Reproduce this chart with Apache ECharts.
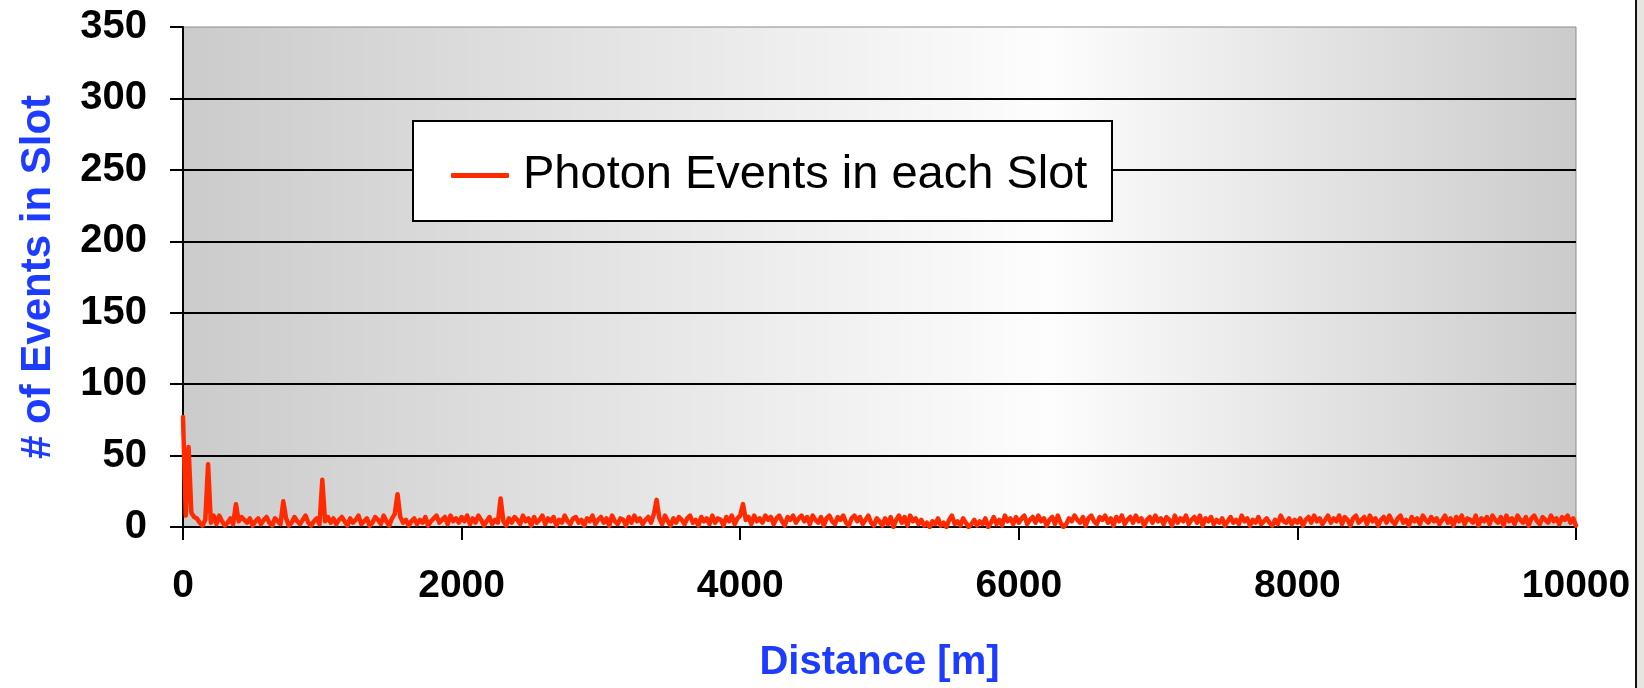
<!DOCTYPE html>
<html>
<head>
<meta charset="utf-8">
<script src="https://cdn.jsdelivr.net/npm/echarts@6/dist/echarts.min.js"></script>
<style>
html,body{margin:0;padding:0;background:#fff;}
#chart{width:1644px;height:688px;}
</style>
</head>
<body>
<div id="chart"></div>
<script>
// Photon event counts per 20 m slot, one array per kilometre
var SLOT_M = 20;
var km0 = [77,8,56,10,7,6,3,1,5,44,3,8,2,8,4,1,3,6,2,16,4,7,5,3,6,1,4,6,2,5,7,3,1,6,4,2,18,6,1,3,7,4,2,5,8,3,1,4,6,2];
var km1 = [33,4,7,3,6,2,5,7,4,1,6,3,5,8,2,4,6,1,3,7,5,2,8,4,1,6,9,23,7,3,5,1,4,6,2,5,3,7,1,4,6,8,3,5,7,2,8,4,6,3];
var km2 = [7,4,8,2,6,3,8,5,1,4,7,2,5,3,20,4,1,6,3,7,5,2,8,4,6,1,7,3,5,8,2,6,4,7,1,5,3,8,4,2,6,7,3,5,1,6,4,8,2,5];
var km3 = [7,3,6,1,8,4,2,6,5,1,7,3,8,4,6,2,5,7,3,9,19,6,2,8,4,1,6,3,7,5,2,6,8,3,5,1,7,4,6,2,8,3,6,5,1,7,4,8,2,6];
var km4 = [8,16,5,7,2,8,4,6,3,8,5,7,2,6,8,4,1,7,5,8,3,6,8,4,7,2,8,5,3,7,1,6,8,4,2,7,5,8,3,1,6,8,4,7,2,5,8,3,1,6];
var km5 = [4,1,6,2,7,0,5,8,3,7,1,8,4,6,2,5,1,3,0,4,2,6,1,3,0,5,8,2,4,1,6,3,0,2,5,1,4,2,6,0,3,7,2,5,1,8,4,6,2,7];
var km6 = [3,6,8,2,5,7,3,8,4,6,1,5,7,2,8,3,0,2,6,4,8,5,3,7,1,6,8,4,2,7,5,8,3,6,1,7,4,8,2,5,7,3,8,4,6,1,5,7,3,8];
var km7 = [4,6,2,7,5,1,8,3,6,4,8,2,5,7,3,8,1,6,4,7,2,5,3,6,1,4,7,3,5,2,8,4,6,1,5,3,7,2,4,6,3,1,5,2,8,4,3,6,2,5];
var km8 = [3,6,1,5,7,3,8,4,6,2,5,8,3,6,4,8,2,7,5,1,6,8,3,5,7,2,8,4,6,1,5,7,3,8,4,2,6,8,3,5,1,7,4,6,2,8,5,3,7,4];
var km9 = [6,2,5,8,3,6,1,7,4,8,2,6,5,3,8,1,6,4,7,2,8,5,3,7,1,8,4,6,2,8,5,3,7,1,6,8,4,2,7,5,3,8,4,6,2,7,5,8,3,6,1];

var X_TICKS = [0, 2000, 4000, 6000, 8000, 10000];
var Y_TICKS = [0, 50, 100, 150, 200, 250, 300, 350];
var SERIES_NAME = 'Photon Events in each Slot';
var X_TITLE = 'Distance [m]';
var Y_TITLE = '# of Events in Slot';

var counts = [].concat(km0, km1, km2, km3, km4, km5, km6, km7, km8, km9);
var points = counts.map(function (c, i) { return [i * SLOT_M, c]; });

var FONT = "'Liberation Sans', Arial, sans-serif";
var BLUE = '#1e3cff';
var RED = '#ff2a00';

var chart = echarts.init(document.getElementById('chart'), null, {renderer: 'canvas'});
chart.setOption({
  animation: false,
  backgroundColor: '#ffffff',
  grid: {
    left: 183, right: 68, top: 27, bottom: 161,
    show: true,
    borderColor: '#8c8c8c',
    borderWidth: 1,
    backgroundColor: new echarts.graphic.LinearGradient(0, 0, 1, 0, [
      {offset: 0, color: '#cbcbcb'},
      {offset: 0.62, color: '#fdfdfd'},
      {offset: 1, color: '#cbcbcb'}
    ])
  },
  graphic: [
    {type: 'rect', left: 1637, top: 0, shape: {width: 7, height: 688}, style: {fill: '#e6e6de'}, z: 1},
    {type: 'line', shape: {x1: 1636, y1: 0, x2: 1636, y2: 688}, style: {stroke: '#111', lineWidth: 2}, z: 1},
    {type: 'rect', shape: {x: 413, y: 121, width: 699, height: 100}, style: {fill: '#ffffff', stroke: '#000', lineWidth: 2}, z: 5}
  ],
  legend: {
    data: [SERIES_NAME],
    left: 446, top: 147,
    z: 6,
    icon: 'roundRect',
    itemWidth: 58, itemHeight: 5,
    itemGap: 0,
    textStyle: {fontFamily: FONT, fontSize: 47, color: '#000', padding: [0, 0, 0, 9]}
  },
  xAxis: {
    type: 'value',
    min: 0, max: 10000, interval: 2000,
    name: X_TITLE,
    nameLocation: 'middle',
    nameGap: 116,
    nameTextStyle: {fontFamily: FONT, fontSize: 40, fontWeight: 'bold', color: BLUE},
    axisLine: {show: true, onZero: false, lineStyle: {color: '#000', width: 2}},
    axisTick: {show: true, inside: false, length: 13, lineStyle: {color: '#000', width: 2}},
    axisLabel: {
      margin: 40, fontFamily: FONT, fontSize: 39, fontWeight: 'bold', color: '#000',
      formatter: function (v) { return X_TICKS.indexOf(v) >= 0 ? String(v) : ''; }
    },
    splitLine: {show: false}
  },
  yAxis: {
    type: 'value',
    min: 0, max: 350, interval: 50,
    name: Y_TITLE,
    nameLocation: 'middle',
    nameRotate: 90,
    nameGap: 124,
    nameTextStyle: {fontFamily: FONT, fontSize: 42, fontWeight: 'bold', color: BLUE},
    axisLine: {show: true, lineStyle: {color: '#000', width: 2}},
    axisTick: {show: true, inside: false, length: 13, lineStyle: {color: '#000', width: 2}},
    axisLabel: {
      margin: 36, fontFamily: FONT, fontSize: 40, fontWeight: 'bold', color: '#000',
      formatter: function (v) { return Y_TICKS.indexOf(v) >= 0 ? String(v) : ''; }
    },
    splitLine: {show: true, showMaxLine: false, lineStyle: {color: '#000', width: 2}}
  },
  series: [{
    name: SERIES_NAME,
    type: 'line',
    data: points,
    symbol: 'none',
    showSymbol: false,
    clip: true,
    color: RED,
    lineStyle: {color: RED, width: 4.5, cap: 'round', join: 'round'},
    z: 3
  }]
});
</script>
</body>
</html>
